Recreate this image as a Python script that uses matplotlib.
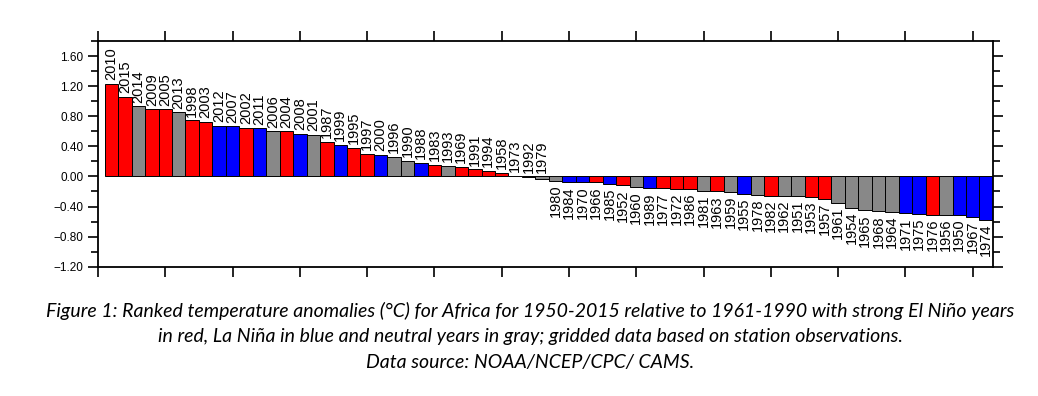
import matplotlib.pyplot as plt
from matplotlib.ticker import MultipleLocator

# ranked years, anomalies (degC), ENSO class: E = El Nino, L = La Nina, N = neutral
years = [2010, 2015, 2014, 2009, 2005, 2013, 1998, 2003, 2012, 2007, 2002, 2011,
         2006, 2004, 2008, 2001, 1987, 1999, 1995, 1997, 2000, 1996, 1990, 1988,
         1983, 1993, 1969, 1991, 1994, 1958, 1973, 1992, 1979, 1980, 1984, 1970,
         1966, 1985, 1952, 1960, 1989, 1977, 1972, 1986, 1981, 1963, 1959, 1955,
         1978, 1982, 1962, 1951, 1953, 1957, 1961, 1954, 1965, 1968, 1964, 1971,
         1975, 1976, 1956, 1950, 1967, 1974]
anomalies = [1.23, 1.06, 0.93, 0.89, 0.89, 0.85, 0.745, 0.725, 0.675, 0.665, 0.65, 0.64,
             0.60, 0.60, 0.57, 0.555, 0.455, 0.42, 0.38, 0.30, 0.29, 0.26, 0.205, 0.183,
             0.152, 0.14, 0.13, 0.094, 0.076, 0.05, 0.012, -0.01, -0.03, -0.06, -0.08, -0.08,
             -0.08, -0.10, -0.12, -0.145, -0.16, -0.16, -0.17, -0.17, -0.19, -0.20, -0.21, -0.235,
             -0.25, -0.255, -0.255, -0.255, -0.276, -0.30, -0.35, -0.42, -0.45, -0.463, -0.47, -0.49,
             -0.50, -0.51, -0.51, -0.51, -0.54, -0.575]
enso = ["E", "E", "N", "E", "E", "N", "E", "E", "L", "L", "E", "L",
        "N", "E", "L", "N", "E", "L", "E", "E", "L", "N", "N", "L",
        "E", "N", "E", "E", "E", "E", "E", "N", "N", "N", "L", "L",
        "E", "L", "E", "N", "L", "E", "E", "E", "N", "E", "N", "L",
        "N", "E", "N", "N", "E", "E", "N", "N", "N", "N", "N", "L",
        "L", "E", "N", "L", "L", "L"]

caption = ("Figure 1: Ranked temperature anomalies (\u00b0C) for Africa for 1950-2015 relative to 1961-1990 with strong El Ni\u00f1o years\n"
           "in red, La Ni\u00f1a in blue and neutral years in gray; gridded data based on station observations.\n"
           "Data source: NOAA/NCEP/CPC/ CAMS.")

colmap = {"E": "#ff0000", "L": "#0000ff", "N": "#888888"}
colors = [colmap[c] for c in enso]
xs = list(range(1, len(years) + 1))

plt.rcParams["font.family"] = ["Liberation Sans", "DejaVu Sans"]

fig = plt.figure(figsize=(10.38, 3.96), dpi=100)
ax = fig.add_axes([0.0944, 0.3265, 0.8622, 0.57])

ax.bar(xs, anomalies, width=1.0, color=colors, edgecolor="black", linewidth=0.7)

# year labels: above the bar for the top of the ranking, below for the rest
for x, v, yr in zip(xs, anomalies, years):
    if v > -0.035:
        ax.text(x, max(v, 0) + 0.05, str(yr), rotation=90, ha="center", va="bottom",
                fontsize=10.5)
    else:
        ax.text(x, v - 0.05, str(yr), rotation=90, ha="center", va="top",
                fontsize=10.5)

ax.set_xlim(0, 66.5)
ax.set_ylim(-1.2, 1.8)
ax.xaxis.set_major_locator(MultipleLocator(5))
ax.yaxis.set_minor_locator(MultipleLocator(0.2))
ax.set_yticks([-1.2, -0.8, -0.4, 0.0, 0.4, 0.8, 1.2, 1.6])
ax.set_yticklabels(["\u22121.20", "\u22120.80", "\u22120.40", "0.00", "0.40", "0.80", "1.20", "1.60"])
ax.tick_params(axis="both", which="both", direction="out", top=True, right=True,
               labelbottom=False, labelsize=8.5, width=1.2)
ax.tick_params(which="major", length=7)
ax.tick_params(which="minor", length=5)
for s in ax.spines.values():
    s.set_linewidth(1.3)

fig.text(0.511, 0.238, caption, ha="center", va="top", fontsize=14,
         style="italic", family=["Lato", "DejaVu Sans"], linespacing=1.6)

fig.savefig("out.png", dpi=100)
